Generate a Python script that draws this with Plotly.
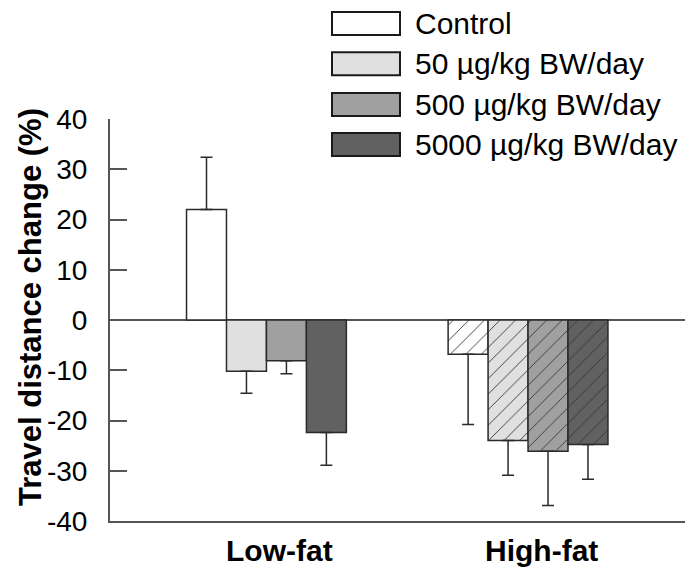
import plotly.graph_objects as go

# ---- data ----
groups = ["Low-fat", "High-fat"]
series_names = ["Control", "50 µg/kg BW/day", "500 µg/kg BW/day", "5000 µg/kg BW/day"]
means = {
    "Control": [22.0, -6.8],
    "50 µg/kg BW/day": [-10.2, -24.0],
    "500 µg/kg BW/day": [-8.1, -26.1],
    "5000 µg/kg BW/day": [-22.4, -24.8],
}
errors = {
    "Control": [10.4, 14.0],
    "50 µg/kg BW/day": [4.4, 6.9],
    "500 µg/kg BW/day": [2.6, 10.8],
    "5000 µg/kg BW/day": [6.5, 6.9],
}
colors = ["#ffffff", "#e0e0e0", "#a0a0a0", "#616161"]
y_ticks = [-40, -30, -20, -10, 0, 10, 20, 30, 40]

FONT = "Liberation Sans, Arial, sans-serif"
W, H = 699, 569
L, R, T, B = 110, 685, 119, 521  # plot area in px


def px_x(px):
    return (px - L) / (R - L)


def px_y(py):
    return (B - py) / (B - T)


fig = go.Figure()
for name, col in zip(series_names, colors):
    vals = means[name]
    errs = errors[name]
    up = [e if v >= 0 else 0 for v, e in zip(vals, errs)]
    dn = [e if v < 0 else 0 for v, e in zip(vals, errs)]
    fig.add_trace(go.Bar(
        name=name,
        x=groups,
        y=vals,
        marker=dict(
            color=col,
            line=dict(color="#2a2a2a", width=1.5),
            pattern=dict(shape=["", "/"], fgcolor="#333333", bgcolor=col,
                         size=11, solidity=0.08, fillmode="replace"),
        ),
        error_y=dict(type="data", symmetric=False, array=up, arrayminus=dn,
                     color="#2a2a2a", thickness=1.5, width=6),
        showlegend=False,
    ))

fig.update_layout(
    width=W, height=H,
    margin=dict(l=L, r=W - R, t=T, b=H - B, pad=0, autoexpand=False),
    paper_bgcolor="white", plot_bgcolor="white",
    barmode="group", bargap=0.389, bargroupgap=0,
    font=dict(family=FONT, color="black"),
    showlegend=False,
)
fig.update_xaxes(
    range=[-0.598, 1.600], automargin=False,
    showline=True, linecolor="#555555", linewidth=2,
    ticks="", showgrid=False, showticklabels=False,
)
fig.update_yaxes(
    range=[-40, 40], automargin=False,
    tickvals=y_ticks, ticktext=[str(v) for v in y_ticks],
    showline=True, linecolor="#555555", linewidth=2,
    ticks="inside", ticklen=17, tickwidth=1.5, tickcolor="#555555",
    showgrid=False,
    zeroline=True, zerolinecolor="#555555", zerolinewidth=1.5,
    tickfont=dict(size=28, family=FONT, color="black"),
    ticklabelstandoff=15,
)

# category labels (slightly right of the group centres, as in the original)
for g in groups:
    fig.add_annotation(
        text=f"<b>{g}</b>", xref="x", yref="paper", x=g, y=px_y(550),
        xanchor="center", yanchor="middle", xshift=13, showarrow=False,
        font=dict(size=30, family=FONT, color="black"),
    )

# y-axis title
fig.add_annotation(
    text="<b>Travel distance change (%)</b>", textangle=-90,
    xref="paper", yref="paper", x=px_x(30), y=px_y(307),
    xanchor="center", yanchor="middle", showarrow=False,
    font=dict(size=31, family=FONT, color="black"),
)

# manual legend (large boxes like the original)
row_centers = [23.5, 63.8, 104.5, 144.5]
for name, col, cy in zip(series_names, colors, row_centers):
    fig.add_shape(
        type="rect", xref="paper", yref="paper",
        x0=px_x(332), x1=px_x(400), y0=px_y(cy + 11.5), y1=px_y(cy - 11.5),
        fillcolor=col, line=dict(color="#1a1a1a", width=2),
    )
    fig.add_annotation(
        text=name, xref="paper", yref="paper",
        x=px_x(413), y=px_y(cy), xanchor="left", yanchor="middle",
        showarrow=False, font=dict(size=30, family=FONT, color="black"),
    )

fig.write_html("out.html")
